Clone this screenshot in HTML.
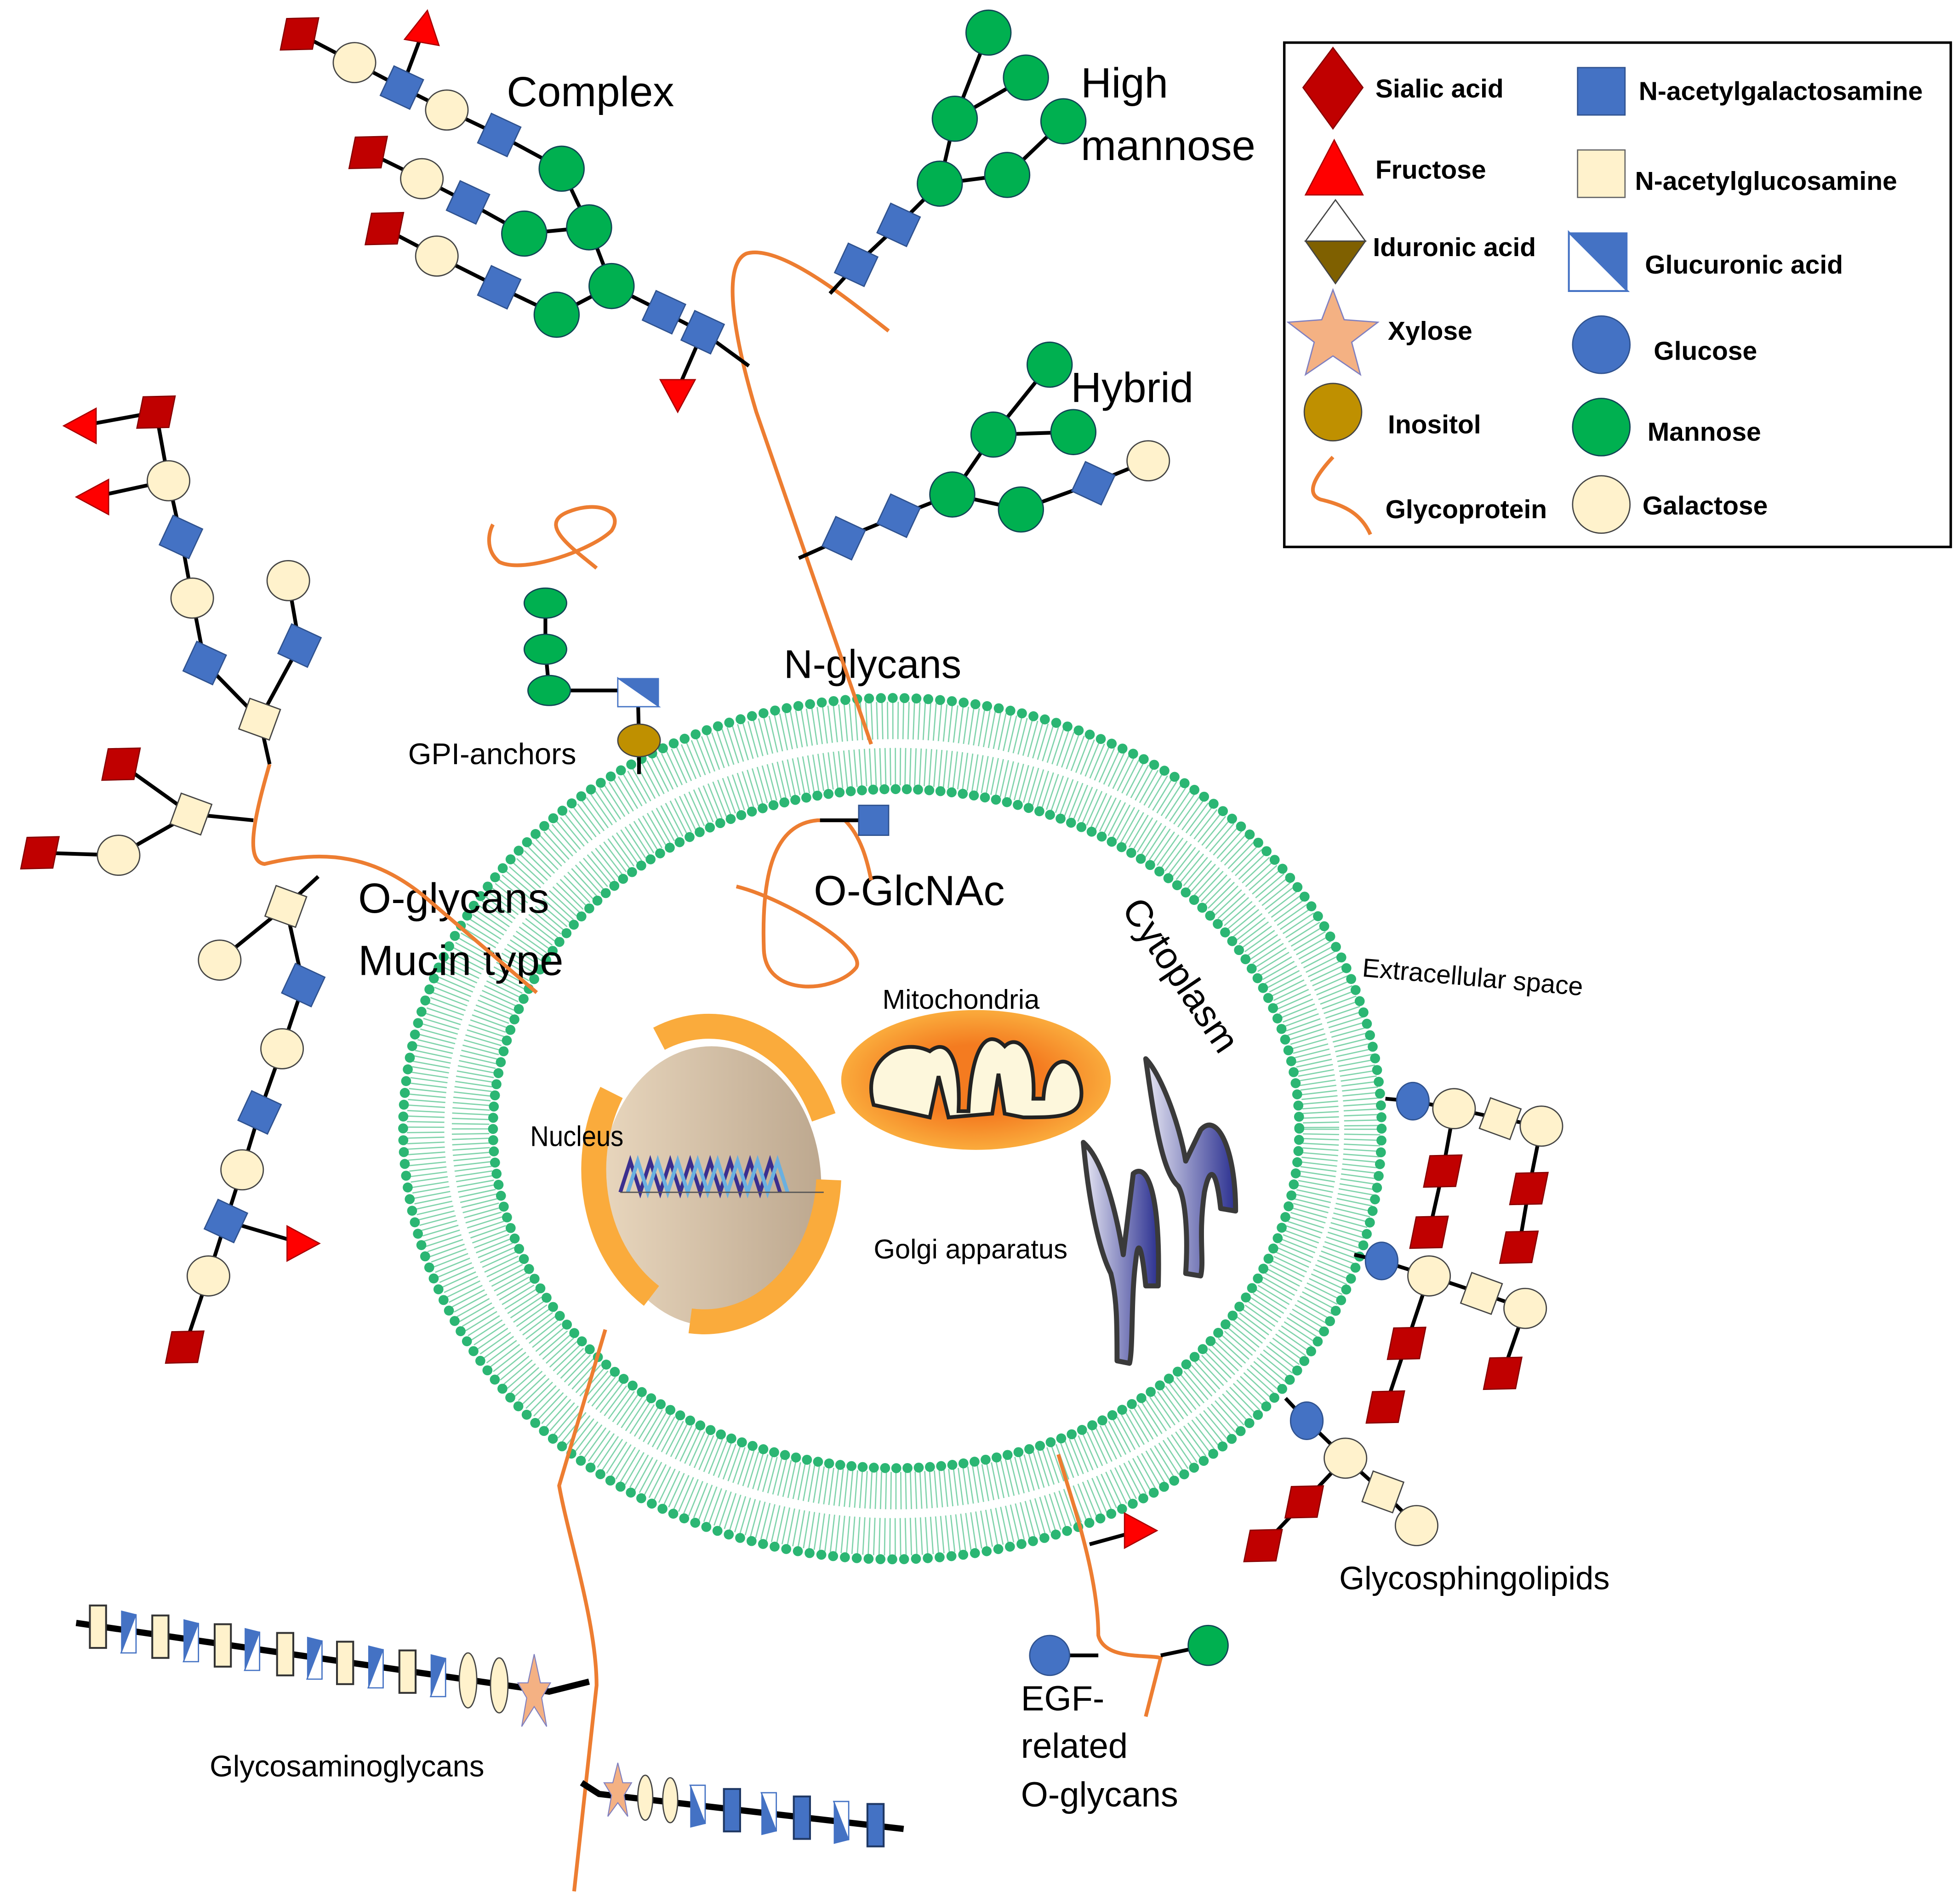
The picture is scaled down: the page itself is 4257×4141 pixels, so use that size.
<!DOCTYPE html>
<html><head><meta charset="utf-8"><style>
html,body{margin:0;padding:0;background:#fff;}
svg{display:block;}
text{font-family:"Liberation Sans",sans-serif;fill:#000;}
.b{font-weight:bold;font-size:21px;}
</style></head><body>
<svg width="4257" height="4141" viewBox="0 0 1568 1525" xmlns="http://www.w3.org/2000/svg">
<defs>
<g id="bs"><rect x="-13" y="-13" width="26" height="26" fill="#4472c4" stroke="#2f528f" stroke-width="1" transform="rotate(25)"/></g>
<g id="cs"><rect x="-13" y="-13" width="26" height="26" fill="#fff2cc" stroke="#444" stroke-width="1" transform="rotate(20)"/></g>
<g id="gc"><circle r="18" fill="#00b050" stroke="#145" stroke-width="1"/></g>
<g id="cc"><ellipse rx="17" ry="16" fill="#fff2cc" stroke="#444" stroke-width="1"/></g>
<g id="bc"><ellipse rx="13" ry="15" fill="#4472c4" stroke="#2f528f" stroke-width="1"/></g>
<g id="rd"><polygon points="0,-20 16,0 0,20 -16,0" fill="#c00000" stroke="#800" stroke-width="1" transform="rotate(50)"/></g>
<g id="rt"><polygon points="-14,12 14,12 0,-14" fill="#ff0000" stroke="#a00" stroke-width="1"/></g>
<g id="ghr"><rect x="-7" y="-17" width="13" height="34" fill="#fff2cc" stroke="#333" stroke-width="1.5"/></g>
<g id="ghh"><polygon points="-6,-17 6,-14 -6,17" fill="#4472c4"/><polygon points="6,-14 6,17 -6,17" fill="#fff" stroke="#4472c4" stroke-width="1"/></g>
<g id="ghb"><rect x="-7" y="-17" width="13" height="34" fill="#4472c4" stroke="#1f3864" stroke-width="1.5"/></g>
<linearGradient id="nuc" x1="0" x2="1"><stop offset="0" stop-color="#e8d6bd"/><stop offset="1" stop-color="#bda88f"/></linearGradient>
<radialGradient id="mit"><stop offset="0.5" stop-color="#f47b20"/><stop offset="1" stop-color="#faab3c"/></radialGradient>
<linearGradient id="gol" x1="0" x2="1"><stop offset="0" stop-color="#e8e8f4"/><stop offset="1" stop-color="#2b3090"/></linearGradient>
</defs>

<!-- membrane -->
<ellipse cx="716" cy="904" rx="375" ry="327" fill="none" stroke="#2bb673" stroke-width="30" stroke-dasharray="1 3.2" opacity="0.6"/>
<ellipse cx="718" cy="904" rx="341" ry="290" fill="none" stroke="#2bb673" stroke-width="30" stroke-dasharray="1 3" opacity="0.6"/>
<ellipse cx="717" cy="904" rx="358" ry="308" fill="none" stroke="#fff" stroke-width="4"/>
<ellipse cx="715" cy="904" rx="392" ry="345" fill="none" stroke="#2bb673" stroke-width="8" stroke-linecap="round" stroke-dasharray="0 9.5"/>
<ellipse cx="718" cy="904" rx="323" ry="272" fill="none" stroke="#2bb673" stroke-width="8" stroke-linecap="round" stroke-dasharray="0 9"/>

<!-- nucleus -->
<ellipse cx="570" cy="950" rx="88" ry="112" fill="url(#nuc)"/>
<g fill="none" stroke="#faab3c" stroke-width="20">
<path d="M528,832 A100,120 0 0 1 660,895"/>
<path d="M664,945 A100,120 0 0 1 553,1058"/>
<path d="M522,1038 A100,120 0 0 1 490,875"/>
</g>
<g fill="none" stroke-width="3">
<path d="M497,955 l8,-25 l8,25 l8,-25 l8,25 l8,-25 l8,25 l8,-25 l8,25 l8,-25 l8,25 l8,-25 l8,25 l8,-25 l8,25 l8,-25 l8,25" stroke="#3b2f8f"/>
<path d="M503,955 l8,-25 l8,25 l8,-25 l8,25 l8,-25 l8,25 l8,-25 l8,25 l8,-25 l8,25 l8,-25 l8,25 l8,-25 l8,25 l8,-25 l8,25" stroke="#6ab0e0"/>
<line x1="497" y1="955" x2="660" y2="955" stroke="#555" stroke-width="1"/>
</g>
<text x="425" y="918" font-size="23" transform="scale(0.9,1) translate(47,0)">Nucleus</text>

<!-- mitochondria -->
<ellipse cx="782" cy="865" rx="108" ry="56" fill="url(#mit)"/>
<path d="M700,885 C690,850 720,830 745,842 C760,830 770,850 768,890 L776,890 C778,840 790,822 805,838 C815,828 830,840 828,880 L836,880 C838,845 860,840 866,870 C870,895 850,895 820,895 L805,892 L800,860 L795,892 L760,895 L752,862 L745,895 Z" fill="#fdf7dc" stroke="#222" stroke-width="3"/>
<text x="707" y="808" font-size="22">Mitochondria</text>

<!-- golgi -->
<g fill="url(#gol)" stroke="#3a3a3a" stroke-width="4" stroke-linejoin="round">
<path d="M918,848 C930,860 945,900 950,930 L962,905 C975,890 990,920 990,970 L978,968 C975,940 970,930 965,955 C960,990 965,1010 962,1022 L950,1020 C952,990 950,960 944,950 C932,940 925,900 918,848 Z"/>
<path d="M868,915 C885,930 895,975 900,1005 L908,940 C920,930 930,960 928,1030 L918,1030 C915,1000 912,990 910,1010 C906,1040 908,1080 905,1092 L895,1090 C895,1060 895,1040 890,1020 C880,1000 872,960 868,915 Z"/>
</g>
<text x="700" y="1008" font-size="22">Golgi apparatus</text>

<!-- texts -->
<text x="406" y="85" font-size="34">Complex</text>
<text x="866" y="78" font-size="34">High</text>
<text x="866" y="128" font-size="34">mannose</text>
<text x="858" y="322" font-size="34">Hybrid</text>
<text x="628" y="543" font-size="32">N-glycans</text>
<text x="327" y="612" font-size="24">GPI-anchors</text>
<text x="652" y="725" font-size="34">O-GlcNAc</text>
<text x="287" y="731" font-size="34">O-glycans</text>
<text x="287" y="781" font-size="34">Mucin type</text>
<text x="0" y="0" font-size="30" transform="translate(898,728) rotate(56)">Cytoplasm</text>
<text x="0" y="0" font-size="21" transform="translate(1091,782) rotate(5)">Extracellular space</text>
<text x="1073" y="1273" font-size="26">Glycosphingolipids</text>
<text x="818" y="1370" font-size="28">EGF-</text>
<text x="818" y="1408" font-size="28">related</text>
<text x="818" y="1447" font-size="28">O-glycans</text>
<text x="168" y="1423" font-size="24">Glycosaminoglycans</text>

<!-- orange proteins -->
<g fill="none" stroke="#ed7d31" stroke-width="3">
<path d="M712,265 C680,240 625,195 598,203 C578,212 588,270 606,330 L698,596"/>
<path d="M216,612 C205,650 195,690 212,692 C260,680 300,685 340,718 L430,795"/>
<path d="M478,455 C460,440 430,420 455,410 C480,400 500,410 490,425 C475,440 420,460 400,450 C388,440 392,425 395,420"/>
<path d="M686,657 L655,657 C620,660 610,700 612,760 C613,800 670,795 686,775 C695,760 630,720 590,710"/>
<path d="M677,657 C690,670 695,690 698,705" />
<path d="M485,1065 L448,1190 C455,1230 478,1300 478,1350 L460,1515"/>
<path d="M848,1165 C858,1200 880,1260 880,1310 C885,1330 920,1325 930,1328 L918,1375"/>
</g>

<!-- black connectors -->
<g stroke="#000" stroke-width="3" fill="none">
<polyline points="240,27 284,50 322,70 358,88 400,108 450,135 472,182 490,229 532,250 563,266 600,293"/>
<line x1="322" y1="70" x2="340" y2="22"/>
<polyline points="295,122 338,143 375,162 420,187 472,182"/>
<polyline points="308,183 350,205 400,230 446,252 490,229"/>
<line x1="563" y1="266" x2="543" y2="312"/>
<polyline points="792,26 765,95 753,147 720,180 686,212 665,235"/>
<line x1="822" y1="62" x2="765" y2="95"/>
<polyline points="852,97 807,140 753,147"/>
<polyline points="841,292 796,348 763,396 720,413 676,431 640,447"/>
<line x1="860" y1="346" x2="796" y2="348"/>
<polyline points="763,396 818,408 876,387 920,369"/>
<polyline points="437,483 437,520 440,553 511,553 512,593 512,620"/>
<line x1="657" y1="657" x2="699" y2="657"/>
<polyline points="65,341 125,330 135,385 75,398"/>
<polyline points="135,385 145,430 154,479 164,531 208,576 216,612"/>
<polyline points="231,465 240,517 208,576"/>
<polyline points="97,612 153,652 203,657"/>
<polyline points="32,683 95,685 153,652"/>
<polyline points="255,702 229,726 176,769"/>
<polyline points="229,726 243,789 226,840 208,891 194,937 181,978 167,1022 148,1079"/>
<line x1="181" y1="978" x2="242" y2="996"/>
<polyline points="1110,880 1132,882 1165,888 1202,896 1235,902"/>
<polyline points="1165,888 1156,938 1145,987"/>
<polyline points="1235,902 1225,952 1217,999"/>
<polyline points="1085,1005 1107,1010 1145,1022 1187,1036 1222,1048"/>
<polyline points="1145,1022 1127,1076 1110,1127"/>
<polyline points="1222,1048 1204,1100"/>
<polyline points="1030,1120 1047,1138 1078,1168 1108,1195 1135,1222"/>
<polyline points="1078,1168 1045,1203 1012,1238"/>
<line x1="873" y1="1237" x2="913" y2="1226"/>
<line x1="841" y1="1326" x2="880" y2="1326"/>
<line x1="930" y1="1326" x2="968" y2="1318"/>
<polyline points="61,1300 420,1352 440,1355 472,1347" stroke-width="5"/>
<polyline points="466,1428 480,1437 724,1465" stroke-width="5"/>
</g>

<!-- shapes -->
<use href="#rd" x="240" y="27"/><use href="#cc" x="284" y="50"/><use href="#bs" x="322" y="70"/><use href="#cc" x="358" y="88"/><use href="#bs" x="400" y="108"/><use href="#gc" x="450" y="135"/>
<g transform="translate(340,22) rotate(10)"><use href="#rt"/></g>
<use href="#rd" x="295" y="122"/><use href="#cc" x="338" y="143"/><use href="#bs" x="375" y="162"/><use href="#gc" x="420" y="187"/><use href="#gc" x="472" y="182"/>
<use href="#rd" x="308" y="183"/><use href="#cc" x="350" y="205"/><use href="#bs" x="400" y="230"/><use href="#gc" x="446" y="252"/><use href="#gc" x="490" y="229"/>
<use href="#bs" x="532" y="250"/><use href="#bs" x="563" y="266"/>
<g transform="translate(543,316) rotate(180)"><use href="#rt"/></g>
<use href="#gc" x="792" y="26"/><use href="#gc" x="822" y="62"/><use href="#gc" x="765" y="95"/><use href="#gc" x="852" y="97"/><use href="#gc" x="753" y="147"/><use href="#gc" x="807" y="140"/>
<use href="#bs" x="720" y="180"/><use href="#bs" x="686" y="212"/>
<use href="#gc" x="841" y="292"/><use href="#gc" x="796" y="348"/><use href="#gc" x="860" y="346"/><use href="#gc" x="763" y="396"/><use href="#gc" x="818" y="408"/>
<use href="#cc" x="920" y="369"/><use href="#bs" x="876" y="387"/><use href="#bs" x="720" y="413"/><use href="#bs" x="676" y="431"/>
<ellipse cx="437" cy="483" rx="17" ry="12" fill="#00b050" stroke="#145"/>
<ellipse cx="437" cy="520" rx="17" ry="12" fill="#00b050" stroke="#145"/>
<ellipse cx="440" cy="553" rx="17" ry="12" fill="#00b050" stroke="#145"/>
<polygon points="495,543 528,543 528,566" fill="#4472c4"/><polygon points="495,543 528,566 495,566" fill="#fff" stroke="#4472c4"/>
<ellipse cx="512" cy="593" rx="17" ry="13" fill="#bf9000" stroke="#444"/>
<rect x="688" y="645" width="24" height="24" fill="#4472c4" stroke="#2f528f"/>
<g transform="translate(65,341) rotate(-90)"><use href="#rt"/></g>
<g transform="translate(75,398) rotate(-90)"><use href="#rt"/></g>
<use href="#rd" x="125" y="330"/><use href="#cc" x="135" y="385"/><use href="#bs" x="145" y="430"/><use href="#cc" x="154" y="479"/><use href="#bs" x="164" y="531"/><use href="#cs" x="208" y="576"/>
<use href="#cc" x="231" y="465"/><use href="#bs" x="240" y="517"/>
<use href="#rd" x="97" y="612"/><use href="#cs" x="153" y="652"/><use href="#cc" x="95" y="685"/><use href="#rd" x="32" y="683"/>
<use href="#cs" x="229" y="726"/><use href="#cc" x="176" y="769"/>
<use href="#bs" x="243" y="789"/><use href="#cc" x="226" y="840"/><use href="#bs" x="208" y="891"/><use href="#cc" x="194" y="937"/><use href="#bs" x="181" y="978"/>
<g transform="translate(242,996) rotate(90)"><use href="#rt"/></g>
<use href="#cc" x="167" y="1022"/><use href="#rd" x="148" y="1079"/>
<use href="#bc" x="1132" y="882"/><use href="#cc" x="1165" y="888"/><use href="#cs" x="1202" y="896"/><use href="#cc" x="1235" y="902"/>
<use href="#rd" x="1156" y="938"/><use href="#rd" x="1145" y="987"/><use href="#rd" x="1225" y="952"/><use href="#rd" x="1217" y="999"/>
<use href="#bc" x="1107" y="1010"/><use href="#cc" x="1145" y="1022"/><use href="#cs" x="1187" y="1036"/><use href="#cc" x="1222" y="1048"/>
<use href="#rd" x="1127" y="1076"/><use href="#rd" x="1110" y="1127"/><use href="#rd" x="1204" y="1100"/>
<use href="#bc" x="1047" y="1138"/><use href="#cc" x="1078" y="1168"/><use href="#cs" x="1108" y="1195"/><use href="#cc" x="1135" y="1222"/>
<use href="#rd" x="1045" y="1203"/><use href="#rd" x="1012" y="1238"/>
<g transform="translate(913,1226) rotate(90)"><use href="#rt"/></g>
<circle cx="841" cy="1326" r="16" fill="#4472c4" stroke="#2f528f"/>
<circle cx="968" cy="1318" r="16" fill="#00b050" stroke="#145"/>
<use href="#ghr" x="79" y="1303"/><use href="#ghh" x="103" y="1307"/><use href="#ghr" x="129" y="1311"/><use href="#ghh" x="153" y="1314"/>
<use href="#ghr" x="179" y="1318"/><use href="#ghh" x="202" y="1321"/><use href="#ghr" x="229" y="1325"/><use href="#ghh" x="252" y="1328"/>
<use href="#ghr" x="277" y="1332"/><use href="#ghh" x="301" y="1335"/><use href="#ghr" x="327" y="1339"/><use href="#ghh" x="351" y="1342"/>
<ellipse cx="375" cy="1346" rx="7" ry="22" fill="#fff2cc" stroke="#444"/>
<ellipse cx="400" cy="1350" rx="7" ry="22" fill="#fff2cc" stroke="#444"/>
<polygon points="428,1325 433,1348 441,1348 434,1360 438,1383 428,1367 418,1383 422,1360 415,1348 423,1348" fill="#f4b183" stroke="#8080c0" stroke-width="0.8"/>
<polygon points="495,1412 499,1428 506,1428 500,1438 503,1455 495,1444 487,1455 490,1438 484,1428 491,1428" fill="#f4b183" stroke="#8080c0" stroke-width="0.8"/>
<ellipse cx="517" cy="1440" rx="6" ry="18" fill="#fff2cc" stroke="#444"/>
<ellipse cx="537" cy="1442" rx="6" ry="18" fill="#fff2cc" stroke="#444"/>
<g transform="translate(559,1447) scale(1,-1)"><use href="#ghh"/></g>
<use href="#ghb" x="587" y="1450"/>
<g transform="translate(616,1453) scale(1,-1)"><use href="#ghh"/></g>
<use href="#ghb" x="643" y="1456"/>
<g transform="translate(674,1460) scale(1,-1)"><use href="#ghh"/></g>
<use href="#ghb" x="702" y="1462"/>

<!-- legend -->
<rect x="1029" y="34" width="534" height="404" fill="#fff" stroke="#000" stroke-width="2"/>
<polygon points="1068,38 1092,70 1068,103 1044,70" fill="#c00000" stroke="#800"/>
<text class="b" x="1102" y="78">Sialic acid</text>
<polygon points="1046,156 1092,156 1069,112" fill="#ff0000" stroke="#a00"/>
<text class="b" x="1102" y="143">Fructose</text>
<polygon points="1070,160 1094,193 1046,193" fill="#fff" stroke="#444"/>
<polygon points="1046,193 1094,193 1070,227" fill="#7f6000" stroke="#444"/>
<text class="b" x="1100" y="205">Iduronic acid</text>
<polygon points="1068,232 1077,256 1104,258 1083,274 1090,300 1068,285 1046,300 1053,274 1032,258 1059,256" fill="#f4b183" stroke="#8080c0"/>
<text class="b" x="1112" y="272">Xylose</text>
<circle cx="1068" cy="330" r="23" fill="#bf9000" stroke="#444"/>
<text class="b" x="1112" y="347">Inositol</text>
<path d="M1068,366 C1055,380 1045,395 1058,400 C1075,404 1090,410 1098,428" fill="none" stroke="#ed7d31" stroke-width="3"/>
<text class="b" x="1110" y="415">Glycoprotein</text>
<rect x="1264" y="54" width="38" height="38" fill="#4472c4" stroke="#2f528f"/>
<text class="b" x="1313" y="80">N-acetylgalactosamine</text>
<rect x="1264" y="120" width="38" height="38" fill="#fff2cc" stroke="#666"/>
<text class="b" x="1310" y="152">N-acetylglucosamine</text>
<polygon points="1257,186 1304,186 1304,233" fill="#4472c4"/><polygon points="1257,186 1304,233 1257,233" fill="#fff" stroke="#4472c4" stroke-width="1.5"/>
<text class="b" x="1318" y="219">Glucuronic acid</text>
<circle cx="1283" cy="276" r="23" fill="#4472c4" stroke="#2f528f"/>
<text class="b" x="1325" y="288">Glucose</text>
<circle cx="1283" cy="342" r="23" fill="#00b050" stroke="#145"/>
<text class="b" x="1320" y="353">Mannose</text>
<circle cx="1283" cy="404" r="23" fill="#fff2cc" stroke="#444"/>
<text class="b" x="1316" y="412">Galactose</text>
</svg>
</body></html>
